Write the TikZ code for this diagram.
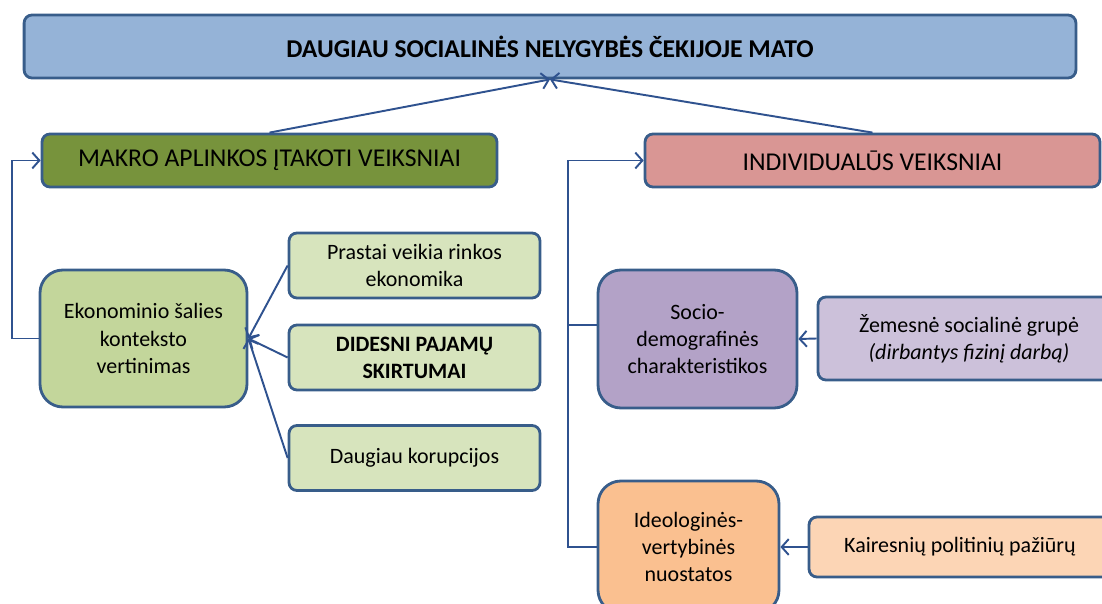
\documentclass[tikz,border=0pt]{standalone}
\usepackage{fontspec}
\setmainfont{Carlito}
\usetikzlibrary{arrows.meta}

\definecolor{boxline}{HTML}{385D8A}
\definecolor{linkline}{HTML}{2F528F}
\definecolor{topfill}{HTML}{95B3D7}
\definecolor{makrofill}{HTML}{77933C}
\definecolor{indivfill}{HTML}{D99694}
\definecolor{ekonfill}{HTML}{C3D69B}
\definecolor{factfill}{HTML}{D7E4BD}
\definecolor{sociofill}{HTML}{B3A2C7}
\definecolor{groupfill}{HTML}{CCC1DA}
\definecolor{ideolfill}{HTML}{FAC090}
\definecolor{viewfill}{HTML}{FCD5B5}

\begin{document}
\begin{tikzpicture}[x=0.02cm, y=-0.02cm,
  box/.style={draw=boxline, line width=1.6pt, rounded corners=4.5pt, align=center,
    inner sep=0pt, font=\fontsize{12.5}{15.5}\selectfont},
  bigbox/.style={box, rounded corners=13pt},
  headbox/.style={box, font=\fontsize{14.6}{17}\selectfont},
  conn/.style={draw=linkline, line width=1.1pt},
  >={Straight Barb[length=4pt,width=9pt]}]
\useasboundingbox (0,0) rectangle (1102,604);

\node[headbox, fill=topfill, minimum width=21.04cm, minimum height=1.26cm] (top) at (550,46.5)
  {\bfseries DAUGIAU SOCIALINĖS NELYGYBĖS ČEKIJOJE MATO};
\node[headbox, fill=makrofill, minimum width=9.1cm, minimum height=1.06cm] (makro) at (269.5,160.5)
  {MAKRO APLINKOS ĮTAKOTI VEIKSNIAI};
\node[headbox, fill=indivfill, minimum width=9.1cm, minimum height=1.06cm] (indiv) at (872.5,160.5)
  {INDIVIDUALŪS VEIKSNIAI};

% makro branch
\node[bigbox, fill=ekonfill, minimum width=4.14cm, minimum height=2.74cm] (ekon) at (143.5,338.5)
  {Ekonominio šalies\\konteksto\\vertinimas};
\node[box, fill=factfill, minimum width=5.02cm, minimum height=1.3cm] (market) at (414.5,265.5)
  {Prastai veikia rinkos\\ekonomika};
\node[box, fill=factfill, minimum width=5.02cm, minimum height=1.3cm] (income) at (414.5,357.5)
  {\bfseries DIDESNI PAJAMŲ\\\bfseries SKIRTUMAI};
\node[box, fill=factfill, minimum width=5.02cm, minimum height=1.3cm] (corrupt) at (414.5,458)
  {Daugiau korupcijos};

% individual branch
\node[bigbox, fill=sociofill, minimum width=3.98cm, minimum height=2.76cm] (socio) at (697.5,339)
  {Socio-\\demografinės\\charakteristikos};
\node[box, fill=groupfill, minimum width=6.04cm, minimum height=1.66cm] (group) at (969,338.5)
  {Žemesnė socialinė grupė\\\itshape (dirbantys fizinį darbą)};
\node[bigbox, fill=ideolfill, minimum width=3.62cm, minimum height=2.64cm] (ideol) at (688.5,547)
  {Ideologinės-\\vertybinės\\nuostatos};
\node[box, fill=viewfill, minimum width=6.04cm, minimum height=1.2cm] (views) at (960,547)
  {Kairesnių politinių pažiūrų};

\draw[conn,->] (makro.north) -- (top.south);
\draw[conn,->] (indiv.north) -- (top.south);

\draw[conn,->] (ekon.west) -- ++(-27,0) |- (makro.west);
\draw[conn,->] (market.west) -- (ekon.east);
\draw[conn,->] (income.west) -- (ekon.east);
\draw[conn,->] (corrupt.west) -- (ekon.east);

\coordinate (rail) at (569,325);
\draw[conn,->] (ideol.west) -- ++(-29,0) |- (indiv.west);
\draw[conn] (rail) -- (socio.west |- rail);
\draw[conn,->] (group.west) -- (socio.east);
\draw[conn,->] (views.west) -- (ideol.east);
\end{tikzpicture}
\end{document}
